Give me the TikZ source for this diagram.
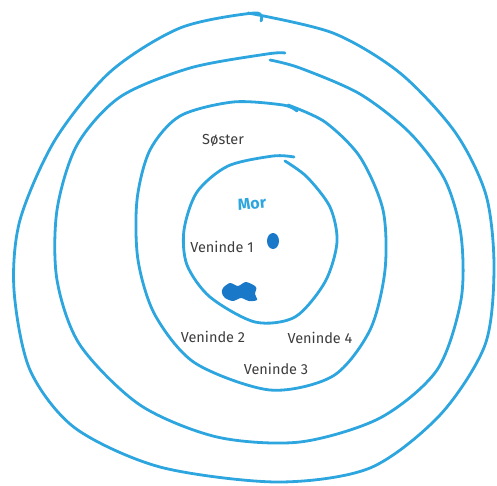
\documentclass[tikz,border=0pt]{standalone}
\usepackage{fontspec}
\setmainfont{Fira Sans}
\definecolor{ringblue}{RGB}{45,165,222}
\definecolor{inkblue}{RGB}{25,120,200}
\definecolor{labelgray}{RGB}{60,60,60}
\begin{document}
\begin{tikzpicture}[x=1pt, y=-1pt, font=\fontsize{14.5}{16}\selectfont, every node/.style={text=labelgray, inner sep=0pt}, ring/.style={draw=ringblue, line width=2.8pt, line cap=round, line join=round}]
        \useasboundingbox (0,0) rectangle (497,485);

        % rings, outer to inner
        \draw[ring] plot[smooth] coordinates {(261,21) (254,13) (180,28) (110,72) (55,140) (20,220) (14,290) (30,370) (75,428) (160,467) (277,482) (370,468) (440,415) (485,345) (494,268) (486,195) (455,132) (400,73) (333,33) (248,13)};
        \draw[ring] plot[smooth] coordinates {(285,53) (267,54) (190,68) (120,97) (77,145) (57,210) (57,280) (80,345) (140,405) (217,437) (300,442) (380,418) (437,370) (461,300) (461,235) (445,180) (410,133) (360,94) (300,68) (270,60)};
        \draw[ring] plot[smooth] coordinates {(297,111) (283,105) (233,102) (180,116) (150,150) (137,200) (138,260) (155,315) (195,363) (270,390) (333,376) (370,330) (385,270) (383,210) (360,157) (325,122) (288,105)};
        \draw[ring] plot[smooth] coordinates {(294,157) (273,156) (228,166) (197,192) (184,230) (187,265) (210,297) (255,322) (295,317) (325,282) (337,242) (330,207) (307,177) (285,161)};

        % marks in the centre
        \fill[inkblue] (273,241) ellipse (6 and 8);
        \fill[inkblue] plot[smooth cycle] coordinates {(223,288) (230,283) (238,286) (246,282) (256,287) (255,294) (257,300) (249,301) (241,298) (233,301) (225,298) (222,293)};

        \node[text=ringblue, font=\fontsize{16}{18}\bfseries, rotate=6] (mor) at (252,204) {Mor};
        \node (soster) at (223,140) {Søster};
        \node (veninde1) at (222,247) {Veninde 1};
        \node (veninde2) at (213,337) {Veninde 2};
        \node (veninde3) at (276,369) {Veninde 3};
        \node (veninde4) at (320,338) {Veninde 4};
    \end{tikzpicture}
\end{document}
